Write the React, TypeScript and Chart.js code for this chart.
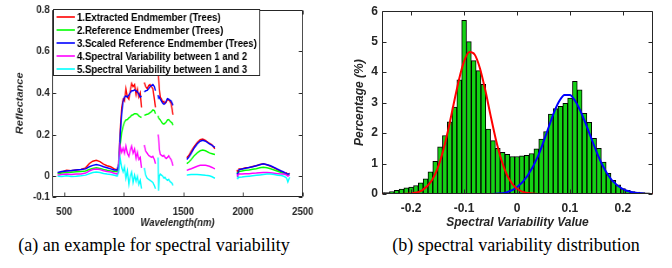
import React, { useEffect, useRef } from 'react';
import { Chart, registerables } from 'chart.js';

Chart.register(...registerables);

// ---------- Left panel data: spectra (nm, reflectance) ----------
const wavelengths = [
  446, 480, 520, 560, 600, 640, 680, 710, 740, 770, 800, 830, 860, 890, 920, 945, 958, 970, 982, 994,
  1006, 1018, 1030, 1042, 1054, 1066, 1078, 1090, 1102, 1114, 1126, 1138, 1148,
  1160,
  1172, 1184, 1196, 1208, 1220, 1232, 1244, 1256, 1265,
  1276,
  1287, 1292, 1298, 1306, 1316, 1326, 1336, 1346, 1356, 1366, 1376, 1386, 1396, 1406, 1412,
  1470,
  1528, 1545, 1565, 1590, 1615, 1640, 1661, 1685, 1717, 1740, 1763,
  1850,
  1949, 1955, 1965, 1990, 2020, 2050, 2080, 2110, 2140, 2170, 2200, 2230, 2260, 2290, 2320, 2340, 2355, 2365, 2375, 2389,
];

const extracted = [
  0.015, 0.02, 0.028, 0.026, 0.03, 0.032, 0.04, 0.06, 0.072, 0.076, 0.07, 0.058, 0.05, 0.045, 0.035, 0.03, 0.06, 0.22, 0.33, 0.37,
  0.36, 0.42, 0.38, 0.37, 0.41, 0.445, 0.43, 0.44, 0.39, 0.42, 0.38, 0.4, 0.33,
  null,
  0.45, 0.43, 0.42, 0.435, 0.44, 0.43, 0.42, 0.37, 0.33,
  null,
  0.53, 0.47, 0.42, 0.38, 0.37, 0.355, 0.36, 0.35, 0.355, 0.37, 0.365, 0.36, 0.35, 0.32, 0.295,
  null,
  0.088, 0.1, 0.12, 0.143, 0.162, 0.175, 0.178, 0.172, 0.158, 0.15, 0.132,
  null,
  0.03, 0.012, 0.035, 0.035, 0.04, 0.042, 0.046, 0.05, 0.056, 0.06, 0.055, 0.048, 0.04, 0.03, 0.022, 0.018, 0.012, 0.015, 0.005, 0.015,
];

const reference = [
  0.012, 0.015, 0.018, 0.019, 0.021, 0.022, 0.025, 0.032, 0.037, 0.04, 0.037, 0.032, 0.028, 0.025, 0.022, 0.022, 0.045, 0.15, 0.21, 0.24,
  0.26, 0.27, 0.272, 0.28, 0.285, 0.293, 0.295, 0.3, 0.3, 0.298, 0.29, 0.285, 0.282,
  null,
  0.292, 0.295, 0.297, 0.3, 0.305, 0.31, 0.318, 0.315, 0.3,
  null,
  0.29, 0.28, 0.275, 0.27, 0.26, 0.252, 0.25, 0.255, 0.26, 0.27, 0.272, 0.265, 0.26, 0.255, 0.245,
  null,
  0.06, 0.068, 0.08, 0.098, 0.112, 0.122, 0.126, 0.122, 0.112, 0.108, 0.104,
  null,
  0.02, 0.012, 0.022, 0.025, 0.028, 0.03, 0.033, 0.036, 0.04, 0.043, 0.04, 0.036, 0.03, 0.024, 0.018, 0.014, 0.01, 0.008, 0.006, 0.008,
];

const scaledReference = [
  0.018, 0.022, 0.025, 0.027, 0.03, 0.032, 0.035, 0.045, 0.052, 0.056, 0.052, 0.045, 0.04, 0.035, 0.03, 0.03, 0.06, 0.2, 0.3, 0.36,
  0.38, 0.385, 0.38, 0.39, 0.4, 0.41, 0.41, 0.415, 0.41, 0.405, 0.395, 0.38, 0.385,
  null,
  0.405, 0.41, 0.412, 0.42, 0.43, 0.435, 0.44, 0.43, 0.41,
  null,
  0.39, 0.375, 0.38, 0.37, 0.36, 0.35, 0.345, 0.35, 0.36, 0.372, 0.37, 0.365, 0.362, 0.35, 0.34,
  null,
  0.08, 0.092, 0.11, 0.135, 0.155, 0.168, 0.172, 0.168, 0.155, 0.148, 0.138,
  null,
  0.015, 0.0, 0.03, 0.035, 0.038, 0.042, 0.045, 0.05, 0.055, 0.06, 0.055, 0.05, 0.042, 0.033, 0.025, 0.02, 0.015, 0.012, 0.01, 0.012,
];

const variability12 = [
  0.005, 0.008, 0.01, 0.008, 0.01, 0.01, 0.015, 0.025, 0.032, 0.035, 0.032, 0.026, 0.022, 0.02, 0.014, 0.01, 0.03, 0.145, 0.115, 0.135,
  0.11, 0.145, 0.11, 0.095, 0.125, 0.145, 0.11, 0.13, 0.085, 0.115, 0.08, 0.09, 0.04,
  null,
  0.15, 0.12, 0.11, 0.1, 0.095, 0.09, 0.095, 0.08, 0.06,
  null,
  0.2, 0.185, 0.13, 0.105, 0.1, 0.095, 0.1, 0.09, 0.085, 0.09, 0.098, 0.088, 0.08, 0.065, 0.05,
  null,
  0.028, 0.032, 0.036, 0.042, 0.048, 0.052, 0.053, 0.052, 0.048, 0.042, 0.035,
  null,
  0.008, 0.004, 0.01, 0.01, 0.012, 0.012, 0.014, 0.015, 0.017, 0.018, 0.018, 0.016, 0.014, 0.012, 0.01, 0.01, 0.008, 0.005, 0.0, 0.005,
];

const variability13 = [
  0.0, -0.002, 0.002, -0.001, 0.0, 0.002, 0.005, 0.012, 0.018, 0.02, 0.018, 0.013, 0.01, 0.008, 0.004, 0.0, 0.02, 0.085, 0.04, 0.02,
  0.045, -0.01, 0.025, -0.04, 0.0, 0.02, -0.03, 0.005, -0.025, 0.0, -0.04, -0.02, -0.06,
  null,
  0.04, 0.005, -0.01, -0.015, -0.02, -0.025, -0.03, -0.045, -0.06,
  null,
  0.09, -0.07, 0.0, 0.01, 0.005, 0.0, -0.01, -0.005, -0.015, -0.02, -0.015, -0.025, -0.03, -0.035, -0.045,
  null,
  0.005, 0.007, 0.008, 0.008, 0.008, 0.007, 0.006, 0.004, 0.002, -0.003, -0.01,
  null,
  -0.008, -0.012, -0.005, -0.004, -0.002, 0.0, 0.002, 0.004, 0.006, 0.008, 0.01, 0.01, 0.008, 0.005, 0.003, 0.0, -0.005, -0.01, -0.028, -0.005,
];

const legendLabels = [
  '1.Extracted Endmember (Trees)',
  '2.Reference Endmember (Trees)',
  '3.Scaled Reference Endmember (Trees)',
  '4.Spectral Variability between 1 and 2',
  '5.Spectral Variability between 1 and 3',
];

const leftXTicks = [500, 1000, 1500, 2000, 2500];
const leftYTicks = [-0.1, 0, 0.2, 0.4, 0.6, 0.8];

// ---------- Right panel data: histogram (%) and fitted curves ----------
const binCenters = [
  -0.2546, -0.2455, -0.2364, -0.2273, -0.2182, -0.2091, -0.2, -0.1909, -0.1818, -0.1727,
  -0.1636, -0.1545, -0.1454, -0.1363, -0.1272, -0.1181, -0.109, -0.0999, -0.0908, -0.0817,
  -0.0726, -0.0635, -0.0544, -0.0453, -0.0362, -0.0271, -0.018, -0.0089, 0.0002, 0.0093,
  0.0184, 0.0275, 0.0366, 0.0457, 0.0548, 0.0639, 0.073, 0.0821, 0.0912, 0.1003,
  0.1094, 0.1185, 0.1276, 0.1367, 0.1458, 0.1549, 0.164, 0.1731, 0.1822, 0.1913,
  0.2004, 0.2095, 0.2186, 0.2277, 0.2368, 0.2459,
];
const binPercent = [
  0.05, 0.05, 0.08, 0.12, 0.16, 0.2, 0.23, 0.28, 0.37, 0.5,
  0.73, 1.07, 1.55, 1.92, 2.37, 2.85, 3.75, 5.7, 5.0, 4.38,
  4.05, 3.6, 2.13, 1.75, 1.5, 1.37, 1.3, 1.23, 1.23, 1.25,
  1.27, 1.33, 1.48, 1.8, 2.05, 2.62, 2.8, 2.88, 2.98, 3.15,
  3.7, 3.42, 2.65, 2.35, 1.83, 1.5, 1.05, 0.68, 0.45, 0.3,
  0.18, 0.12, 0.08, 0.06, 0.05, 0.04,
];

const redFitX = [-0.255, -0.22, -0.2, -0.18, -0.16, -0.15, -0.14, -0.13, -0.12, -0.11, -0.1, -0.09, -0.08, -0.07, -0.06, -0.05, -0.04, -0.03, -0.02, -0.01, 0, 0.01, 0.02, 0.04, 0.257];
const redFitY = [0, 0.002, 0.02, 0.11, 0.47, 0.84, 1.39, 2.1, 2.92, 3.72, 4.35, 4.66, 4.58, 4.13, 3.42, 2.59, 1.8, 1.15, 0.67, 0.36, 0.17, 0.08, 0.03, 0.003, 0];

const blueFitX = [-0.255, -0.06, -0.04, -0.02, 0, 0.02, 0.04, 0.06, 0.07, 0.08, 0.09, 0.1, 0.11, 0.12, 0.13, 0.14, 0.15, 0.16, 0.17, 0.18, 0.2, 0.22, 0.24, 0.257];
const blueFitY = [0, 0.002, 0.01, 0.05, 0.22, 0.6, 1.25, 2.2, 2.68, 3.05, 3.25, 3.25, 3.05, 2.72, 2.3, 1.85, 1.4, 1.0, 0.68, 0.44, 0.16, 0.05, 0.01, 0];

const rightXTicks = [-0.2, -0.1, 0, 0.1, 0.2];
const rightYTicks = [0, 1, 2, 3, 4, 5, 6];

// ---------- styling ----------
const AXIS = '#262626';
const SANS = '"Liberation Sans", Arial, Helvetica, sans-serif';
const SQUISH = 0.87;

function drawBox(chart: any, tickLen: number) {
  const { ctx, chartArea: a, scales } = chart;
  const L = Math.round(a.left) + 0.5;
  const R = Math.round(a.right) - 0.5;
  const T = Math.round(a.top) + 0.5;
  const B = Math.round(a.bottom) - 0.5;
  ctx.save();
  ctx.strokeStyle = AXIS;
  ctx.lineWidth = 1;
  ctx.beginPath();
  ctx.rect(L, T, R - L, B - T);
  scales.x.ticks.forEach((t: any) => {
    const px = Math.round(scales.x.getPixelForValue(t.value)) + 0.5;
    ctx.moveTo(px, B); ctx.lineTo(px, B - tickLen);
    ctx.moveTo(px, T); ctx.lineTo(px, T + tickLen);
  });
  scales.y.ticks.forEach((t: any) => {
    const py = Math.round(scales.y.getPixelForValue(t.value)) + 0.5;
    ctx.moveTo(L, py); ctx.lineTo(L + tickLen, py);
    ctx.moveTo(R, py); ctx.lineTo(R - tickLen, py);
  });
  ctx.stroke();
  ctx.restore();
}

const leftPlugin = {
  id: 'leftDecor',
  afterDraw(chart: any) {
    drawBox(chart, 4);
    const ctx = chart.ctx;
    ctx.save();
    const x0 = 61, y0 = 9, w = 237, h = 66;
    ctx.fillStyle = '#ffffff';
    ctx.fillRect(x0, y0, w, h);
    ctx.strokeStyle = AXIS;
    ctx.lineWidth = 1;
    ctx.strokeRect(x0 + 0.5, y0 + 0.5, w, h);
    ctx.font = `bold 11px ${SANS}`;
    ctx.textBaseline = 'middle';
    ctx.textAlign = 'left';
    chart.data.datasets.forEach((ds: any, i: number) => {
      const y = 17 + i * 13;
      ctx.strokeStyle = ds.borderColor;
      ctx.lineWidth = 1.6;
      ctx.beginPath();
      ctx.moveTo(65, y);
      ctx.lineTo(86, y);
      ctx.stroke();
      ctx.fillStyle = '#000000';
      ctx.fillText(ds.label, 88.5, y + 0.5);
    });
    ctx.restore();
  },
};

const rightPlugin = {
  id: 'rightDecor',
  afterDraw(chart: any) {
    drawBox(chart, 4);
  },
};

function tickFont(size: number) {
  return { family: SANS, size, weight: 'bold' as const };
}
function titleFont(size: number) {
  return { family: SANS, size, weight: 'bold' as const, style: 'italic' as const };
}

export default function App() {
  const leftRef = useRef<HTMLCanvasElement>(null);
  const rightRef = useRef<HTMLCanvasElement>(null);

  useEffect(() => {
    const seriesDefs = [
      { values: extracted, color: '#ff0000', order: 5 },
      { values: reference, color: '#00ff00', order: 4 },
      { values: scaledReference, color: '#0000ff', order: 3 },
      { values: variability12, color: '#ff00ff', order: 2 },
      { values: variability13, color: '#00ffff', order: 1 },
    ];
    const left = new Chart(leftRef.current as HTMLCanvasElement, {
      type: 'line',
      data: {
        datasets: seriesDefs.map((s, i) => ({
          label: legendLabels[i],
          data: wavelengths.map((w, k) => ({ x: w, y: s.values[k] })),
          borderColor: s.color,
          backgroundColor: s.color,
          borderWidth: 1.5,
          pointRadius: 0,
          tension: 0,
          spanGaps: false,
          order: s.order,
        })),
      },
      options: {
        animation: false,
        responsive: false,
        devicePixelRatio: 1,
        events: [],
        layout: { padding: { top: 8, right: 38, left: 0, bottom: 0 } },
        plugins: { legend: { display: false }, tooltip: { enabled: false } },
        scales: {
          x: {
            type: 'linear',
            min: 400,
            max: 2500,
            afterBuildTicks: (s: any) => { s.ticks = leftXTicks.map((v) => ({ value: v })); },
            afterFit: (s: any) => { s.height = 35; },
            grid: { display: false, drawTicks: false },
            border: { display: false },
            ticks: { color: AXIS, font: tickFont(11), padding: 8, maxRotation: 0, autoSkip: false, callback: (v: any) => String(v) },
            title: { display: true, text: 'Wavelength(nm)', color: AXIS, font: titleFont(11), padding: { top: 0, bottom: 2 } },
          },
          y: {
            type: 'linear',
            min: -0.1,
            max: 0.8,
            afterBuildTicks: (s: any) => { s.ticks = leftYTicks.map((v) => ({ value: v })); },
            afterFit: (s: any) => { s.width = 60; },
            grid: { display: false, drawTicks: false },
            border: { display: false },
            ticks: { color: AXIS, font: tickFont(11), padding: 3, callback: (v: any) => String(v) },
            title: { display: true, text: 'Reflectance', color: AXIS, font: titleFont(11), padding: { top: 16, bottom: 0 } },
          },
        },
      } as any,
      plugins: [leftPlugin],
    });

    const right = new Chart(rightRef.current as HTMLCanvasElement, {
      type: 'bar',
      data: {
        datasets: [
          {
            type: 'line',
            label: 'fit 1',
            data: redFitX.map((x, k) => ({ x, y: redFitY[k] })),
            borderColor: '#ff0000',
            borderWidth: 2,
            pointRadius: 0,
            cubicInterpolationMode: 'monotone',
            order: 0,
          },
          {
            type: 'line',
            label: 'fit 2',
            data: blueFitX.map((x, k) => ({ x, y: blueFitY[k] })),
            borderColor: '#0000ff',
            borderWidth: 2,
            pointRadius: 0,
            cubicInterpolationMode: 'monotone',
            order: 1,
          },
          {
            type: 'bar',
            label: 'histogram',
            data: binCenters.map((x, k) => ({ x, y: binPercent[k] })),
            backgroundColor: '#14d214',
            borderColor: '#000000',
            borderWidth: 1,
            borderSkipped: false,
            barPercentage: 1,
            categoryPercentage: 1,
            order: 2,
          },
        ],
      },
      options: {
        animation: false,
        responsive: false,
        devicePixelRatio: 1,
        events: [],
        layout: { padding: { top: 8, right: 19, left: 0, bottom: 0 } },
        plugins: { legend: { display: false }, tooltip: { enabled: false } },
        scales: {
          x: {
            type: 'linear',
            min: -0.255,
            max: 0.257,
            offset: false,
            afterBuildTicks: (s: any) => { s.ticks = rightXTicks.map((v) => ({ value: v })); },
            afterFit: (s: any) => { s.height = 38; },
            grid: { display: false, drawTicks: false, offset: false },
            border: { display: false },
            ticks: { color: AXIS, font: tickFont(12), padding: 7, maxRotation: 0, autoSkip: false, callback: (v: any) => String(v) },
            title: { display: true, text: 'Spectral Variability Value', color: AXIS, font: titleFont(12), padding: { top: 0, bottom: 2 } },
          },
          y: {
            type: 'linear',
            min: 0,
            max: 6,
            afterBuildTicks: (s: any) => { s.ticks = rightYTicks.map((v) => ({ value: v })); },
            afterFit: (s: any) => { s.width = 46; },
            grid: { display: false, drawTicks: false },
            border: { display: false },
            ticks: { color: AXIS, font: tickFont(12), padding: 4, callback: (v: any) => String(v) },
            title: { display: true, text: 'Percentage (%)', color: AXIS, font: titleFont(12), padding: { top: 16, bottom: 0 } },
          },
        },
      } as any,
      plugins: [rightPlugin],
    });

    return () => {
      left.destroy();
      right.destroy();
    };
  }, []);

  const captionStyle: React.CSSProperties = {
    position: 'absolute',
    top: 235,
    transform: 'translateX(-50%)',
    whiteSpace: 'nowrap',
    fontFamily: '"Liberation Serif", "Times New Roman", serif',
    fontSize: 18,
    lineHeight: '20px',
    color: '#000',
  };

  return (
    <div style={{ position: 'absolute', left: 0, top: 0, width: 672, height: 268, background: '#fff', overflow: 'hidden' }}>
      <div style={{ position: 'absolute', left: 0, top: 0, width: 386, height: 232, transform: `scaleX(${SQUISH})`, transformOrigin: '0 0' }}>
        <canvas ref={leftRef} width={386} height={232} />
      </div>
      <div style={{ position: 'absolute', left: 336, top: 0, width: 336, height: 232 }}>
        <canvas ref={rightRef} width={336} height={232} />
      </div>
      <div style={{ ...captionStyle, left: 154 }}>(a) an example for spectral variability</div>
      <div style={{ ...captionStyle, left: 516 }}>(b) spectral variability distribution</div>
    </div>
  );
}
